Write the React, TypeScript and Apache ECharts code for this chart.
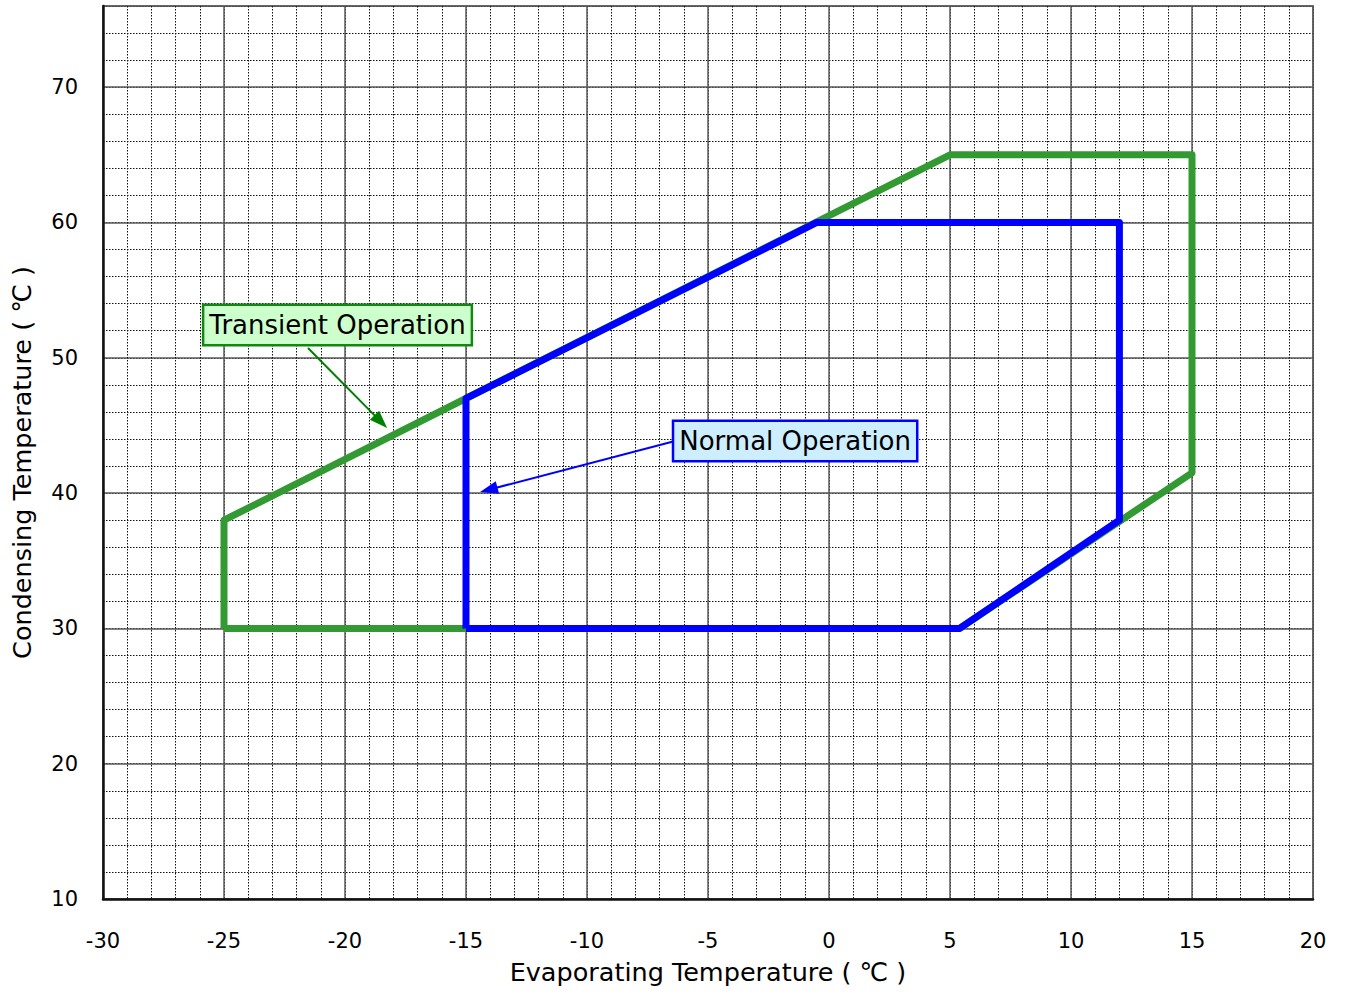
import React, { useEffect, useRef } from "react";
import * as echarts from "echarts";

const transientX = [-25, -25, 5, 15, 15, 5.4, -25];
const transientY = [30, 38, 65, 65, 41.5, 30, 30];
const normalX = [-15, -15, -0.5, 12, 12, 5.4, -15];
const normalY = [30, 47, 60, 60, 38, 30, 30];

const xMin = -30, xMax = 20, xMajor = 5, xMinor = 1;
const yMin = 10, yMax = 76, yMajor = 10, yMinor = 2;

const xName = "Evaporating Temperature ( ℃ )";
const yName = "Condensing Temperature ( ℃ )";

const transientLabel = "Transient Operation";
const transientLabelPos = [-20.31, 52.42];
const transientArrow = [[-21.53, 50.72], [-18.52, 45.28]];
const normalLabel = "Normal Operation";
const normalLabelPos = [-1.4, 43.85];
const normalArrow = [[-6.36, 43.85], [-14.06, 40.25]];

const FONT = "'DejaVu Sans', 'Noto Sans', 'Noto Sans CJK JP', sans-serif";

function zip(xs: number[], ys: number[]) {
  return xs.map((x, i) => [x, ys[i]]);
}

export default function App() {
  const ref = useRef<HTMLDivElement>(null);
  useEffect(() => {
    if (!ref.current) return;
    const chart = echarts.init(ref.current, undefined, { renderer: "svg" });
    const dotted = { show: true, lineStyle: { color: "#111", width: 1, type: [1.5, 1.5] as any } };
    const boxLabel = (text: string, bg: string, border: string) => ({
      show: true, position: "inside", formatter: text, color: "#000", opacity: 1,
      fontSize: 26, fontFamily: FONT, backgroundColor: bg,
      borderColor: border, borderWidth: 2.5, padding: [7, 5, 5, 5],
    });
    chart.setOption({
      animation: false,
      backgroundColor: "#fff",
      textStyle: { fontFamily: FONT },
      grid: {
        left: 103, right: 35, top: 6, bottom: 94,
        show: true, borderColor: "#8a8a8a", borderWidth: 2, backgroundColor: "transparent",
      },
      xAxis: [
        {
          type: "value", min: xMin, max: xMax, interval: xMinor, position: "top",
          axisLine: { show: false }, axisTick: { show: false }, axisLabel: { show: false },
          splitLine: dotted,
        },
        {
          type: "value", min: xMin, max: xMax, interval: xMajor, position: "bottom",
          axisLine: { show: true, onZero: false, lineStyle: { color: "#111", width: 2.5 } },
          axisTick: { show: false },
          axisLabel: { show: true, color: "#000", fontSize: 21, fontFamily: FONT, margin: 31 },
          splitLine: { show: true, lineStyle: { color: "#5a5a5a", width: 1.5 } },
          name: xName, nameLocation: "middle", nameGap: 60,
          nameTextStyle: { color: "#000", fontSize: 25.5, fontFamily: FONT },
        },
      ],
      yAxis: [
        {
          type: "value", min: yMin, max: yMax, interval: yMinor, position: "right",
          axisLine: { show: false }, axisTick: { show: false }, axisLabel: { show: false },
          splitLine: dotted,
        },
        {
          type: "value", min: yMin, max: yMax, interval: yMajor, position: "left",
          axisLine: { show: true, onZero: false, lineStyle: { color: "#111", width: 2.5 } },
          axisTick: { show: false },
          axisLabel: { show: true, color: "#000", fontSize: 21, fontFamily: FONT, margin: 25, showMaxLabel: false },
          splitLine: { show: true, lineStyle: { color: "#5a5a5a", width: 1.5 } },
          name: yName, nameLocation: "middle", nameGap: 68,
          nameTextStyle: { color: "#000", fontSize: 25.5, fontFamily: FONT, padding: [0, 20, 0, 0] },
        },
      ],
      series: [
        {
          name: "Transient", type: "line", xAxisIndex: 1, yAxisIndex: 1,
          data: zip(transientX, transientY), showSymbol: false, symbol: "none",
          lineStyle: { color: "#339933", width: 7, join: "round" }, z: 3, silent: true,
          markLine: {
            silent: true, symbol: ["none", "triangle"], symbolSize: [13, 18],
            label: { show: false },
            lineStyle: { color: "#008000", width: 2, type: "solid" },
            data: [[{ coord: transientArrow[0] }, { coord: transientArrow[1] }]],
          },
        },
        {
          name: "Normal", type: "line", xAxisIndex: 1, yAxisIndex: 1,
          data: zip(normalX, normalY), showSymbol: false, symbol: "none",
          lineStyle: { color: "#0000ff", width: 7, join: "round" }, z: 4, silent: true,
          markLine: {
            silent: true, symbol: ["none", "triangle"], symbolSize: [13, 18],
            label: { show: false },
            lineStyle: { color: "#0000ff", width: 2, type: "solid" },
            data: [[{ coord: normalArrow[0] }, { coord: normalArrow[1] }]],
          },
        },
        {
          name: "labels", type: "scatter", xAxisIndex: 1, yAxisIndex: 1, symbolSize: 0, z: 10, silent: true,
          itemStyle: { opacity: 1 },
          data: [
            { value: transientLabelPos, label: boxLabel(transientLabel, "#ccffcc", "#118811") },
            { value: normalLabelPos, label: boxLabel(normalLabel, "#cdeeff", "#0000ff") },
          ],
        },
      ],
    });
    return () => chart.dispose();
  }, []);
  return (
    <div
      ref={ref}
      style={{ position: "absolute", left: 0, top: 0, width: 1348, height: 993, background: "#fff" }}
    />
  );
}
